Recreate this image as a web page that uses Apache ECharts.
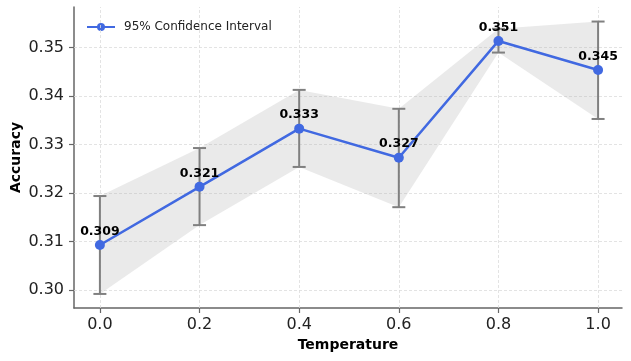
<!DOCTYPE html>
<html>
<head>
<meta charset="utf-8">
<script src="https://cdn.jsdelivr.net/npm/echarts@6/dist/echarts.min.js"></script>
<style>
  html, body { margin: 0; padding: 0; background: #fff; }
  #main { width: 631px; height: 361px; }
</style>
</head>
<body>
<div id="main"></div>
<script>
var temps = [0.0, 0.2, 0.4, 0.6, 0.8, 1.0];
var accMean = [0.3093, 0.3213, 0.3333, 0.3273, 0.3514, 0.3454];
var ciLow = [0.2992, 0.3134, 0.3254, 0.3171, 0.3490, 0.3353];
var ciHigh = [0.3194, 0.3293, 0.3413, 0.3374, 0.3539, 0.3554];
var xTicks = [0.0, 0.2, 0.4, 0.6, 0.8, 1.0];
var yTicks = [0.30, 0.31, 0.32, 0.33, 0.34, 0.35];

var font = 'DejaVu Sans';
var chart = echarts.init(document.getElementById('main'), null, {renderer: 'canvas'});

var gridLines = xTicks.map(function (v) { return {xAxis: v}; })
	.concat(yTicks.map(function (v) { return {yAxis: v}; }));

var option = {
	animation: false,
	backgroundColor: '#fff',
	textStyle: {fontFamily: font},
	grid: {left: 74, right: 9, top: 7, bottom: 53, containLabel: false, outerBoundsMode: 'none'},
	legend: {
		left: 81, top: 16,
		itemWidth: 28, itemHeight: 10,
		itemGap: 10,
		textStyle: {fontFamily: font, fontSize: 12, color: '#222', padding: [0, 0, 0, 4]},
		data: ['95% Confidence Interval']
	},
	xAxis: {
		type: 'value',
		min: -0.052, max: 1.048,
		name: 'Temperature',
		nameLocation: 'middle',
		nameGap: 30,
		nameMoveOverlap: false,
		nameTextStyle: {fontFamily: font, fontSize: 14, fontWeight: 'bold', color: '#000'},
		axisLine: {show: true, onZero: false, lineStyle: {color: '#666', width: 1.5}},
		axisTick: {show: true, customValues: xTicks, length: 5, lineStyle: {color: '#666', width: 1.2}},
		axisLabel: {
			customValues: xTicks, margin: 9, fontFamily: font, fontSize: 16, color: '#222',
			formatter: function (v) { return v.toFixed(1); }
		},
		splitLine: {show: false}
	},
	yAxis: {
		type: 'value',
		min: 0.2963, max: 0.3584,
		name: 'Accuracy',
		nameLocation: 'middle',
		nameGap: 51,
		nameMoveOverlap: false,
		nameTextStyle: {fontFamily: font, fontSize: 14, fontWeight: 'bold', color: '#000'},
		axisLine: {show: true, onZero: false, lineStyle: {color: '#666', width: 1.5}},
		axisTick: {show: true, customValues: yTicks, length: 5, lineStyle: {color: '#666', width: 1.2}},
		axisLabel: {
			customValues: yTicks, margin: 10, fontFamily: font, fontSize: 16, color: '#222',
			formatter: function (v) { return v.toFixed(2); }
		},
		splitLine: {show: false}
	},
	series: [
		{
			// dashed grid
			type: 'line',
			data: [],
			z: 0,
			silent: true,
			markLine: {
				silent: true,
				symbol: 'none',
				label: {show: false},
				lineStyle: {type: [3, 2], color: '#dcdcdc', width: 0.8},
				data: gridLines
			}
		},
		{
			// shaded band
			type: 'custom',
			zlevel: 1,
			z: 1,
			silent: true,
			data: [0],
			renderItem: function (params, api) {
				var pts = [];
				for (var i = 0; i < temps.length; i++) pts.push(api.coord([temps[i], ciHigh[i]]));
				for (var j = temps.length - 1; j >= 0; j--) pts.push(api.coord([temps[j], ciLow[j]]));
				return {type: 'polygon', shape: {points: pts}, style: {fill: 'rgba(170,170,170,0.25)'}};
			}
		},
		{
			// error bars
			type: 'custom',
			zlevel: 1,
			z: 2,
			silent: true,
			data: temps.map(function (t, i) { return [t, ciLow[i], ciHigh[i]]; }),
			renderItem: function (params, api) {
				var lo = api.coord([api.value(0), api.value(1)]);
				var hi = api.coord([api.value(0), api.value(2)]);
				var cw = 6.5;
				var st = {stroke: '#808080', lineWidth: 2};
				return {
					type: 'group',
					children: [
						{type: 'line', shape: {x1: lo[0], y1: lo[1], x2: hi[0], y2: hi[1]}, style: st},
						{type: 'line', shape: {x1: lo[0] - cw, y1: lo[1], x2: lo[0] + cw, y2: lo[1]}, style: st},
						{type: 'line', shape: {x1: hi[0] - cw, y1: hi[1], x2: hi[0] + cw, y2: hi[1]}, style: st}
					]
				};
			}
		},
		{
			name: '95% Confidence Interval',
			type: 'line',
			zlevel: 1,
			z: 3,
			data: temps.map(function (t, i) { return [t, accMean[i]]; }),
			symbol: 'circle',
			symbolSize: 10,
			itemStyle: {color: '#4169E1', borderColor: '#4169E1', borderWidth: 0, opacity: 1},
			lineStyle: {color: '#4169E1', width: 2.5},
			label: {
				show: true,
				position: 'top',
				distance: 2,
				fontFamily: font,
				fontSize: 12.5,
				fontWeight: 'bold',
				color: '#000',
				formatter: function (p) { return p.value[1].toFixed(3); }
			}
		}
	]
};

chart.setOption(option);
</script>
</body>
</html>
